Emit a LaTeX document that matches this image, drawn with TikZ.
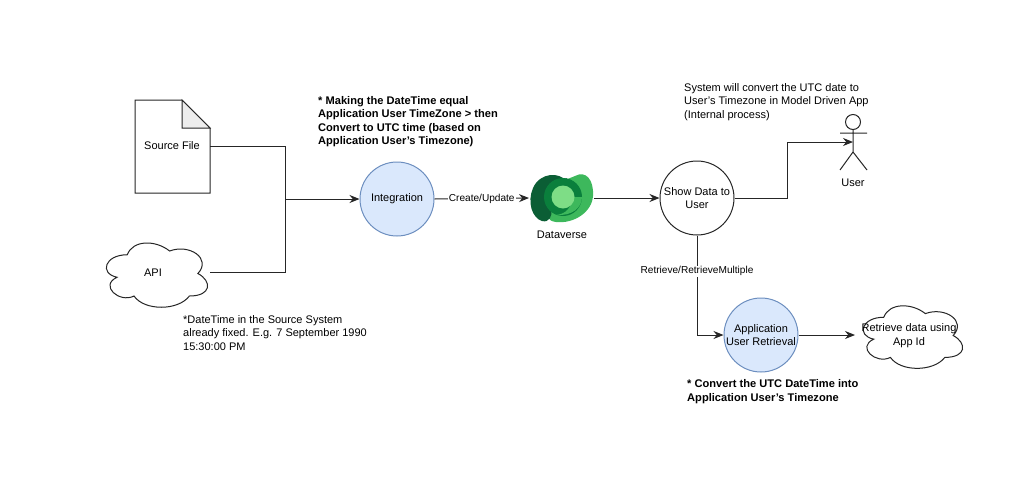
\documentclass[tikz,border=0pt]{standalone}
\usepackage{fontspec}
\setmainfont{Liberation Sans}
\usetikzlibrary{arrows.meta}
\definecolor{bluefill}{HTML}{DAE8FC}
\definecolor{bluedraw}{HTML}{6C8EBF}
\definecolor{logoA}{HTML}{0B5E35}
\definecolor{logoB}{HTML}{3DB85C}
\definecolor{logoC}{HTML}{0A7F3C}
\definecolor{logoD}{HTML}{7EDD86}
\newcommand{\cloudshape}[4]{%
  \begin{scope}[shift={(#1,#2)},x=#3pt,y=-#4pt]
    \draw[shapeline,fill=white] (.25,.25) .. controls (.05,.25) and (0,.5) .. (.16,.55)
      .. controls (0,.66) and (.18,.9) .. (.31,.8)
      .. controls (.4,1) and (.7,1) .. (.8,.8)
      .. controls (1,.8) and (1,.6) .. (.875,.5)
      .. controls (1,.3) and (.8,.1) .. (.625,.2)
      .. controls (.5,.05) and (.3,.05) .. (.25,.25) -- cycle;
  \end{scope}}
\tikzset{
  shapeline/.style={draw=black!85,line width=1pt},
  conn/.style={draw=black!85,line width=1pt,-{Stealth[length=10pt,width=8pt]}},
  plain/.style={draw=black!85,line width=1pt},
  round/.style={circle,minimum size=74pt,inner sep=0pt,line width=1pt,align=center,font=\fontsize{11}{13.5}\selectfont},
  bluecirc/.style={round,draw=bluedraw,fill=bluefill},
  whitecirc/.style={round,draw=black!85,fill=white},
  lbl/.style={inner sep=0pt,align=center,font=\fontsize{11}{13.5}\selectfont},
  note/.style={inner sep=0pt,align=left,anchor=north west,font=\fontsize{11}{13.5}\selectfont},
  notebold/.style={inner sep=0pt,align=left,anchor=north west,font=\fontsize{11.1}{13.5}\selectfont\bfseries},
  edgelbl/.style={inner sep=1pt,fill=white,font=\fontsize{10.1}{12}\selectfont},
}
\begin{document}
\begin{tikzpicture}[x=1pt,y=-1pt]
\useasboundingbox (0,0) rectangle (1023,480);
% source file
\draw[shapeline,fill=white] (135,100) -- (182,100) -- (210,128) -- (210,193) -- (135,193) -- cycle;
\draw[shapeline,fill=black!7] (182,100) -- (210,128) -- (182,128) -- cycle;
\node[lbl] (src) at (172,146) {Source File};
\coordinate (srcE) at (210,146);
% API cloud
\cloudshape{99}{236}{113}{75}
\node[lbl] (api) at (153,273) {API};
\coordinate (apiE) at (210,272);
\coordinate (junction) at (285,199);
% integration
\node[bluecirc] (integ) at (397,199) {Integration};
% dataverse logo
\coordinate (dv) at (562,198);
\fill[logoB] (575,176) .. controls (586,170) and (594,180) .. (593,196)
  .. controls (592,212) and (574,224) .. (556,222)
  .. controls (548,221) and (545,216) .. (550,210) -- (565,180) -- cycle;
\fill[logoA] (566,181) .. controls (560,172) and (540,172) .. (533,188)
  .. controls (527,202) and (532,218) .. (542,221)
  .. controls (549,223) and (553,216) .. (551,209)
  .. controls (546,200) and (552,185) .. (566,181) -- cycle;
\fill[logoA] (566,178) -- (578,190) -- (570,195) -- (560,185) -- cycle;
\fill[logoC] (563,197) circle[radius=19pt];
\fill[logoB] (582,197) .. controls (582,208) and (572,216) .. (556,215)
  .. controls (566,214) and (571,208) .. (573,197) -- cycle;
\fill[logoD] (563,197) circle[radius=11.5pt];
\node[lbl] (dvl) at (562,235) {Dataverse};
\coordinate (dvW) at (529,198);
\coordinate (dvE) at (594,198);
% show data
\node[whitecirc] (show) at (697,198) {Show Data to\\User};
% user
\coordinate (userP) at (853,142);
\draw[shapeline] (853,122) circle[radius=7.5pt];
\draw[shapeline] (853,129.5) -- (853,152) (840,133) -- (867,133) (840,170) -- (853,152) -- (867,170);
\node[lbl] (user) at (853,183) {User};
% retrieval
\node[bluecirc] (ret) at (761,335) {Application\\User Retrieval};
\cloudshape{856}{299}{111}{73}
\node[lbl] (rd) at (909,335.5) {Retrieve data using\\App Id};
\coordinate (rdW) at (855,335);
% connectors
\draw[plain] (srcE) -| (junction);
\draw[plain] (apiE) -| (junction);
\draw[conn] (junction) -- (integ.west);
\draw[conn] (integ.east) -- node[edgelbl]{Create/Update} (dvW);
\draw[conn] (dvE) -- (show.west);
\draw[conn] (show.east) -- (787,198) |- (userP);
\draw[conn] (show.south) |- node[edgelbl,pos=.18]{Retrieve/RetrieveMultiple} (ret.west);
\draw[conn] (ret.east) -- (rdW);
% notes
\node[notebold] (n1) at (318,96) {* Making the DateTime equal\\Application User TimeZone > then\\Convert to UTC time (based on\\Application User's Timezone)};
\node[note] (n2) at (183,315) {*DateTime in the Source System\\already fixed. E.g. 7 September 1990\\15:30:00 PM};
\node[note] (n3) at (684,83) {System will convert the UTC date to\\User's Timezone in Model Driven App\\(Internal process)};
\node[notebold] (n4) at (687,379.5) {* Convert the UTC DateTime into\\Application User's Timezone};
\end{tikzpicture}
\end{document}
